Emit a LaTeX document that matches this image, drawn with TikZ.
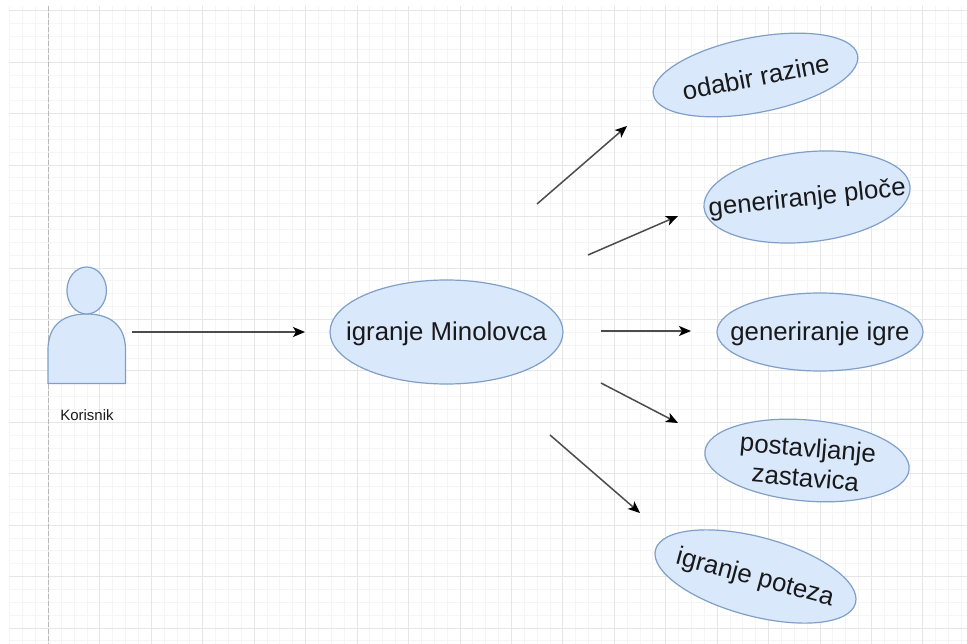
\documentclass[tikz,border=0pt]{standalone}
\usepackage{fontspec}
\setmainfont{Liberation Sans}
\usetikzlibrary{shapes.geometric,arrows.meta}
\definecolor{ucfill}{HTML}{DAE8FC}
\definecolor{ucline}{HTML}{7F9FC9}
\definecolor{gridminor}{HTML}{F5F5F5}
\definecolor{gridmajor}{HTML}{E6E6E6}
\tikzset{
  usecase/.style={draw=ucline,fill=ucfill,line width=1.2pt,ellipse,inner sep=0pt,outer sep=0pt},
  uctext/.style={inner sep=0pt,align=center,font=\fontsize{25.8}{30}\selectfont,text=black!90},
  conn/.style={line width=1.5pt,draw=black!70,-{Stealth[length=12pt,width=10pt,inset=3pt,color=black]}},
  person/.style={draw=ucline,fill=ucfill,line width=1.2pt}
}
\begin{document}
\begin{tikzpicture}[x=1pt,y=-1pt]
\useasboundingbox (0,0) rectangle (967,644);
\fill[white] (0,0) rectangle (967,644);
% grid
\foreach \i in {0,...,74}{
  \pgfmathsetmacro{\gx}{round(9.4+12.86*\i)+0.5}
  \pgfmathtruncatemacro{\m}{mod(\i,4)==3}
  \ifnum\m=1\relax\else\draw[gridminor,line width=1pt] (\gx,6) -- (\gx,644);\fi
}
\foreach \i in {0,...,49}{
  \pgfmathsetmacro{\gy}{round(10.3+12.86*\i)+0.5}
  \pgfmathtruncatemacro{\m}{mod(\i,4)==0}
  \ifnum\m=1\relax\else\draw[gridminor,line width=1pt] (9,\gy) -- (967,\gy);\fi
}
\foreach \i in {0,...,18}{
  \pgfmathsetmacro{\gx}{round(48+51.44*\i)+0.5}
  \draw[gridmajor,line width=1pt] (\gx,6) -- (\gx,644);
}
\foreach \i in {0,...,12}{
  \pgfmathsetmacro{\gy}{round(10.3+51.44*\i)+0.5}
  \draw[gridmajor,line width=1pt] (9,\gy) -- (967,\gy);
}
\draw[black!28,line width=1pt,dash pattern=on 5pt off 2pt] (48.5,6) -- (48.5,644);
% actor
\path[person] (48,383.5) -- (48,350) .. controls (48,328) and (60,314) .. (86.7,314) .. controls (113,314) and (125.5,328) .. (125.5,350) -- (125.5,383.5) -- cycle;
\node[person,ellipse,inner sep=0pt,minimum width=39.5pt,minimum height=47pt] (head) at (86.7,290.5) {};
\node[inner sep=0pt,font=\fontsize{15}{17}\selectfont,text=black!90] (korisnik) at (87,415) {Korisnik};
% use cases
\node[usecase,minimum width=233pt,minimum height=104pt] (main) at (446.5,332) {};
\node[uctext,yshift=-1.5pt] (maint) at (main.center) {igranje Minolovca};
\node[usecase,rotate=11,minimum width=208pt,minimum height=75pt] (a) at (755.5,75) {};
\node[uctext,rotate=11,yshift=-2pt] (at) at (a.center) {odabir razine};
\node[usecase,rotate=6,minimum width=207pt,minimum height=90pt] (b) at (807,197) {};
\node[uctext,rotate=6,yshift=-2pt] (bt) at (b.center) {generiranje ploče};
\node[usecase,minimum width=206pt,minimum height=78pt] (c) at (820,332) {};
\node[uctext,yshift=-1.5pt] (ct) at (c.center) {generiranje igre};
\node[usecase,rotate=-5,minimum width=205pt,minimum height=81pt] (d) at (807,460.5) {};
\node[uctext,rotate=-5,yshift=-2pt] (dt) at (d.center) {postavljanje\\zastavica};
\node[usecase,rotate=-15,minimum width=207pt,minimum height=79pt] (e) at (755.5,576.5) {};
\node[uctext,rotate=-15,yshift=-2pt] (et) at (e.center) {igranje poteza};
% connector ends
\coordinate (s0) at (132,332); \coordinate (t0) at (305,332);
\coordinate (s1) at (537,204); \coordinate (t1) at (627,126);
\coordinate (s2) at (588,255); \coordinate (t2) at (678,216);
\coordinate (s3) at (601,331); \coordinate (t3) at (691,331);
\coordinate (s4) at (601,383); \coordinate (t4) at (678,423);
\coordinate (s5) at (550,435); \coordinate (t5) at (640,513);
\foreach \k in {0,...,5}{\draw[conn] (s\k) -- (t\k);}
\end{tikzpicture}
\end{document}
